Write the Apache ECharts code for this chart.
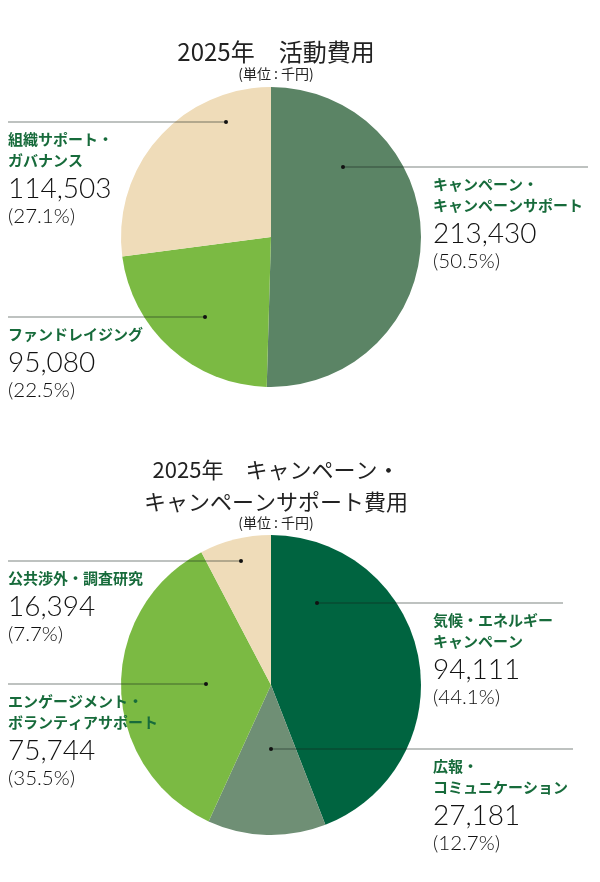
<!DOCTYPE html>
<html><head><meta charset="utf-8">
<script src="https://cdn.jsdelivr.net/npm/echarts@6/dist/echarts.min.js"></script>
<style>html,body{margin:0;padding:0;background:#fff}#c{width:600px;height:882px}</style>
</head><body><div id="c"></div>
<script>
// ---- data ----
const title1 = '2025年　活動費用';
const title2 = '2025年　キャンペーン・\nキャンペーンサポート費用';
const unitLabel = '(単位 : 千円)';

const cats1 = ['キャンペーン・\nキャンペーンサポート', 'ファンドレイジング', '組織サポート・\nガバナンス'];
const vals1 = [213430, 95080, 114503];
const pcts1 = ['50.5', '22.5', '27.1'];

const cats2 = ['気候・エネルギー\nキャンペーン', '広報・\nコミュニケーション', 'エンゲージメント・\nボランティアサポート', '公共渉外・調査研究'];
const vals2 = [94111, 27181, 75744, 16394];
const pcts2 = ['44.1', '12.7', '35.5', '7.7'];

// ---- layout (px) ----
const colors1 = ['#5b8465', '#7bba43', '#efdcb9'];
const colors2 = ['#006440', '#6f8f75', '#7bba43', '#efdcb9'];
// [dotX, lineY, lineEndX, labelX]
const anchors1 = [[343, 167, 588, 433], [205, 317, 8, 8], [226, 122, 8, 8]];
const anchors2 = [[317, 603, 563, 433], [271, 749, 573, 433], [206, 684, 8, 8], [241, 561, 8, 8]];

const fmtNum = v => String(v).replace(/\B(?=(\d{3})+(?!\d))/g, ',');
const pctsAll = [pcts1, pcts2];
const anchorsAll = [anchors1, anchors2];

function labelFormatter(p) {
  const nameLines = p.name.split('\n').map(s => '{n|' + s + '}').join('\n');
  return nameLines + '\n{v|' + fmtNum(p.value) + '}\n{p|(' + pctsAll[p.seriesIndex][p.dataIndex] + '%)}';
}

const rich = {
  n: {fontFamily: '"Noto Sans CJK JP", sans-serif', fontWeight: 'bold', fontSize: 15, lineHeight: 21, color: '#176b3b'},
  v: {fontFamily: 'Lato, sans-serif', fontWeight: 300, fontSize: 28, lineHeight: 36, color: '#111'},
  p: {fontFamily: 'Lato, sans-serif', fontWeight: 300, fontSize: 20.5, lineHeight: 20, color: '#111'}
};

function makeSeries(cats, vals, colors, center) {
  return {
    type: 'pie',
    center: center,
    radius: 150,
    startAngle: 90,
    clockwise: true,
    silent: true,
    animation: false,
    itemStyle: {borderWidth: 0},
    label: {show: true, position: 'outside', formatter: labelFormatter, rich: rich,
            width: 200, overflow: 'none', align: 'left'},
    labelLine: {show: false},
    labelLayout: function (params) {
      const a = anchorsAll[params.seriesIndex][params.dataIndex];
      return {x: a[3], y: a[1] + 6.5, align: 'left', verticalAlign: 'top', hideOverlap: false, moveOverlap: false};
    },
    emphasis: {disabled: true},
    data: cats.map((c, i) => ({name: c, value: vals[i], itemStyle: {color: colors[i]}}))
  };
}

const graphics = [];
anchorsAll.forEach(list => list.forEach(a => {
  graphics.push({type: 'line', z: 100, shape: {x1: a[0], y1: a[1], x2: a[2], y2: a[1]},
    style: {stroke: 'rgba(20,35,28,0.55)', lineWidth: 1}, silent: true});
  graphics.push({type: 'circle', z: 101, shape: {cx: a[0], cy: a[1], r: 2},
    style: {fill: '#111'}, silent: true});
}));

const chart = echarts.init(document.getElementById('c'), null, {renderer: 'canvas'});
chart.setOption({
  animation: false,
  title: [
    {text: title1, left: 271, top: 32, textAlign: 'center',
     textStyle: {fontFamily: '"Noto Sans CJK JP", sans-serif', fontWeight: 'normal', fontSize: 24, lineHeight: 30, color: '#222'}},
    {text: unitLabel, left: 271, top: 60, textAlign: 'center',
     textStyle: {fontFamily: '"Noto Sans CJK JP", sans-serif', fontWeight: 'normal', fontSize: 14, lineHeight: 18, color: '#222'}},
    {text: title2, left: 271, top: 449, textAlign: 'center',
     textStyle: {fontFamily: '"Noto Sans CJK JP", sans-serif', fontWeight: 'normal', fontSize: 22, lineHeight: 32, color: '#222'}},
    {text: unitLabel, left: 271, top: 509, textAlign: 'center',
     textStyle: {fontFamily: '"Noto Sans CJK JP", sans-serif', fontWeight: 'normal', fontSize: 14, lineHeight: 18, color: '#222'}}
  ],
  series: [
    makeSeries(cats1, vals1, colors1, [271, 237]),
    makeSeries(cats2, vals2, colors2, [271, 685])
  ],
  graphic: graphics
});
</script>
</body></html>
